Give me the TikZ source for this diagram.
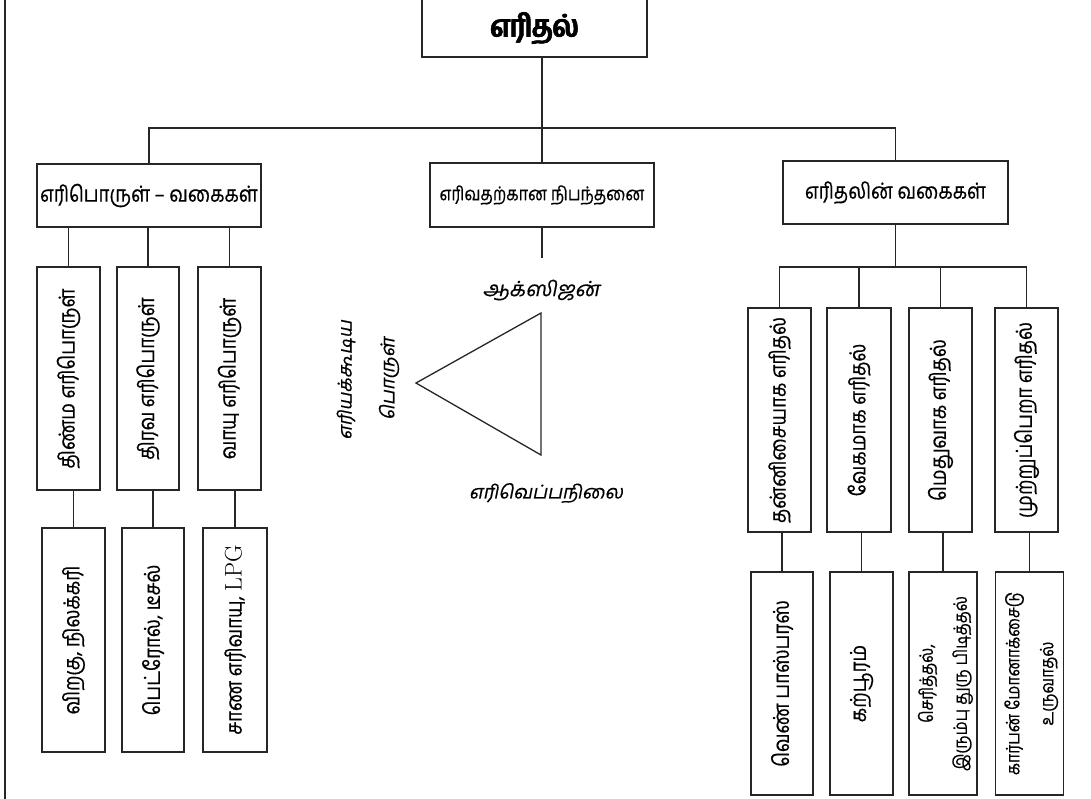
\documentclass[tikz,border=0pt]{standalone}
\usepackage{fontspec}
\newfontfamily\ta[Script=Tamil,FakeStretch=0.85,FakeBold=0.5]{Hind Madurai}
\newfontfamily\tab[Script=Tamil,FakeStretch=0.87,FakeBold=1.6]{Hind Madurai}
\newfontfamily\tai[Script=Tamil,FakeSlant=0.2,FakeBold=0.4]{Hind Madurai}
\newcommand\heavytxt[1]{\rlap{#1}\kern0.8pt\rlap{#1}\kern0.8pt#1}
\tikzset{
  box/.style={draw=black!85, line width=1.6pt, rectangle, inner sep=0pt, align=center},
  ln/.style={draw=black!85, line width=1.6pt},
  lbl/.style={font=\ta\fontsize{22}{26}\selectfont},
  vlbl/.style={font=\ta\fontsize{22}{26}\selectfont},
  vsmall/.style={font=\ta\fontsize{18.5}{34}\selectfont},
  ital/.style={font=\tai\fontsize{19}{24}\selectfont, inner sep=0pt},
}
\begin{document}
\begin{tikzpicture}[x=1pt,y=-1pt]
\useasboundingbox (0,0) rectangle (1091,798);
\draw[ln] (5,-2) -- (5,800);
% top
\node[box, minimum width=225pt, minimum height=58pt, font=\tab\fontsize{31}{38}\selectfont] (title) at (534.5,28) {\heavytxt{எரிதல்}};
\node[box, lbl, minimum width=224pt, minimum height=63pt] (fuel) at (149,195.5) {எரிபொருள் – வகைகள்};
\node[box, lbl, font=\ta\fontsize{19}{24}\selectfont, minimum width=224pt, minimum height=64pt] (cond) at (542,195) {எரிவதற்கான நிபந்தனை};
\node[box, lbl, minimum width=225pt, minimum height=63pt] (types) at (895.5,192.5) {எரிதலின் வகைகள்};
\draw[ln] (cond.north) -- (cond.north |- title.south);
\draw[ln] (fuel.north) -- ++(0,-35) -| (types.north);
% fuel column
\node[box, vlbl, minimum width=63pt, minimum height=223pt] (f1) at (68.5,378.5) {\rotatebox{90}{திண்ம எரிபொருள்}};
\node[box, vlbl, minimum width=62pt, minimum height=223pt] (f2) at (148,378.5) {\rotatebox{90}{திரவ எரிபொருள்}};
\node[box, vlbl, minimum width=63pt, minimum height=223pt] (f3) at (229.5,378.5) {\rotatebox{90}{வாயு எரிபொருள்}};
\node[box, vlbl, minimum width=63pt, minimum height=224pt] (g1) at (73.5,640) {\rotatebox{90}{விறகு, நிலக்கரி}};
\node[box, vlbl, minimum width=62pt, minimum height=224pt] (g2) at (153,640) {\rotatebox{90}{பெட்ரோல், டீசல்}};
\node[box, vlbl, minimum width=64pt, minimum height=224pt] (g3) at (235,640) {\rotatebox{90}{சாண எரிவாயு, {\rmfamily\fontsize{24}{26}\selectfont LPG}}};
\foreach \n in {f1,f2,f3} \draw[ln] (\n.north) -- (\n.north |- fuel.south);
\foreach \a/\b in {f1/g1,f2/g2,f3/g3} \draw[ln] (\b.north) -- (\b.north |- \a.south);
% condition
\coordinate (cstem) at (542,258);
\draw[ln] (cond.south) -- (cstem);
\coordinate (tA) at (541,313);
\coordinate (tB) at (416,383);
\coordinate (tC) at (541,455);
\draw[ln, line width=1.3pt, line join=miter] (tA) -- (tB) -- (tC) -- cycle;
\node[ital, font=\tai\fontsize{21}{24}\selectfont] (oxy) at (541,290) {ஆக்ஸிஜன்};
\node[ital] (temp) at (546,493) {எரிவெப்பநிலை};
\node[ital, rotate=90] (fuelA) at (346,380) {எரியக்கூடிய};
\node[ital, rotate=90] (fuelB) at (389,379) {பொருள்};
% types column
\node[box, vlbl, minimum width=63pt, minimum height=224pt] (t1) at (779.5,420) {\rotatebox{90}{தன்னிசையாக எரிதல்}};
\node[box, vlbl, minimum width=64pt, minimum height=224pt] (t2) at (859,420) {\rotatebox{90}{வேகமாக எரிதல்}};
\node[box, vlbl, minimum width=63pt, minimum height=224pt] (t3) at (940.5,420) {\rotatebox{90}{மெதுவாக எரிதல்}};
\node[box, vlbl, minimum width=63pt, minimum height=224pt] (t4) at (1026.5,420) {\rotatebox{90}{முற்றுப்பெறா எரிதல்}};
\draw[ln] (types.south) -- (types.south |- 0,268);
\draw[ln] (t1.north) -- ++(0,-40) -| (t4.north);
\draw[ln] (t2.north) -- ++(0,-40);
\draw[ln] (t3.north) -- ++(0,-40);
\node[box, vlbl, minimum width=62pt, minimum height=223pt] (b1) at (782,683.5) {\rotatebox{90}{வெண் பாஸ்பரஸ்}};
\node[box, vlbl, minimum width=63pt, minimum height=223pt] (b2) at (861.5,683.5) {\rotatebox{90}{கற்பூரம்}};
\node[box, vsmall, minimum width=62pt, minimum height=223pt] (b3) at (943,683.5) {\rotatebox{90}{\begin{tabular}{@{}c@{}}செரித்தல்,\\இரும்பு துரு பிடித்தல்\end{tabular}}};
\node[box, vsmall, minimum width=63pt, minimum height=223pt] (b4) at (1029.5,683.5) {\rotatebox{90}{\begin{tabular}{@{}c@{}}கார்பன் மோனாக்சைடு\\உருவாதல்\end{tabular}}};
\foreach \a/\b in {t1/b1,t2/b2,t3/b3,t4/b4} \draw[ln] (\b.north) -- (\b.north |- \a.south);
\end{tikzpicture}
\end{document}
